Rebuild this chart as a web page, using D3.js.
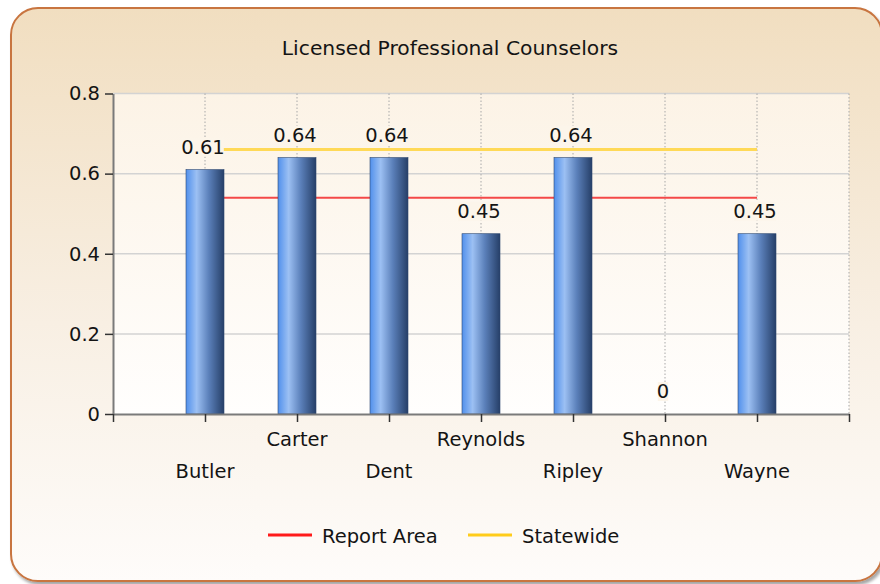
<!DOCTYPE html>
<html>
<head>
<meta charset="utf-8">
<script src="https://cdn.jsdelivr.net/npm/d3@7"></script>
<style>
  html, body { margin: 0; padding: 0; background: #ffffff; }
  svg { display: block; }
  text { font-family: "DejaVu Sans", Verdana, sans-serif; fill: #141414; }
</style>
</head>
<body>
<svg id="chart" width="880" height="584"></svg>
<script>
// Licensed professional counselors per county, with report-area and statewide rates
const counties = ["Butler", "Carter", "Dent", "Reynolds", "Ripley", "Shannon", "Wayne"];
const countyRates = [0.61, 0.64, 0.64, 0.45, 0.64, 0, 0.45];
const reportArea = [0.54, 0.54, 0.54, 0.54, 0.54, 0.54, 0.54];
const statewide = [0.66, 0.66, 0.66, 0.66, 0.66, 0.66, 0.66];
const yTicks = [0, 0.2, 0.4, 0.6, 0.8];
const legendItems = [
  { name: "Report Area", color: "#ff1a1a" },
  { name: "Statewide", color: "#ffcc1a" }
];
const chartTitle = "Licensed Professional Counselors";

const svg = d3.select("#chart");
const defs = svg.append("defs");

// Panel background: warm beige fading to near white
const panelGrad = defs.append("linearGradient").attr("id", "panelGrad")
  .attr("x1", 0).attr("y1", 0).attr("x2", 0).attr("y2", 1);
panelGrad.append("stop").attr("offset", "0%").attr("stop-color", "#f1dec0");
panelGrad.append("stop").attr("offset", "55%").attr("stop-color", "#f8efe3");
panelGrad.append("stop").attr("offset", "100%").attr("stop-color", "#fefcfa");

// Plot area background
const plotGrad = defs.append("linearGradient").attr("id", "plotGrad")
  .attr("x1", 0).attr("y1", 0).attr("x2", 0).attr("y2", 1);
plotGrad.append("stop").attr("offset", "0%").attr("stop-color", "#fcf3e6");
plotGrad.append("stop").attr("offset", "100%").attr("stop-color", "#fffefd");

// Cylinder-like horizontal shading for bars
const barGrad = defs.append("linearGradient").attr("id", "barGrad")
  .attr("x1", 0).attr("y1", 0).attr("x2", 1).attr("y2", 0);
barGrad.append("stop").attr("offset", "0%").attr("stop-color", "#5190ec");
barGrad.append("stop").attr("offset", "28%").attr("stop-color", "#9cc0f3");
barGrad.append("stop").attr("offset", "60%").attr("stop-color", "#5b80ba");
barGrad.append("stop").attr("offset", "100%").attr("stop-color", "#263f68");

const shadow = defs.append("filter").attr("id", "panelShadow")
  .attr("x", "-5%").attr("y", "-5%").attr("width", "110%").attr("height", "110%");
shadow.append("feDropShadow").attr("dx", 2).attr("dy", 3).attr("stdDeviation", 1.6)
  .attr("flood-color", "#000").attr("flood-opacity", 0.35);

// Rounded panel
svg.append("rect")
  .attr("x", 11).attr("y", 8).attr("width", 871).attr("height", 573)
  .attr("rx", 27).attr("ry", 27)
  .attr("fill", "url(#panelGrad)")
  .attr("stroke", "#c8743f").attr("stroke-width", 2)
  .attr("filter", "url(#panelShadow)");

// Title
svg.append("text")
  .attr("x", 450).attr("y", 55)
  .attr("text-anchor", "middle")
  .style("font-size", "20.3px")
  .text(chartTitle);

// Scales
const x = d3.scaleLinear().domain([0, counties.length + 1]).range([113, 849]);
const y = d3.scaleLinear().domain([0, 0.8]).range([414, 93.5]);
const barWidth = 38;

// Plot background
svg.append("rect")
  .attr("x", x(0)).attr("y", y(0.8))
  .attr("width", x(counties.length + 1) - x(0))
  .attr("height", y(0) - y(0.8))
  .attr("fill", "url(#plotGrad)");

// Horizontal gridlines
svg.append("g").selectAll("line")
  .data(yTicks.filter(d => d > 0))
  .join("line")
  .attr("x1", x(0)).attr("x2", x(counties.length + 1))
  .attr("y1", d => y(d)).attr("y2", d => y(d))
  .attr("stroke", "#d3d3d3").attr("stroke-width", 1.5);

// Vertical dotted gridlines at each county and at the right edge
const vGrid = counties.map((c, i) => i + 1).concat([counties.length + 1]);
svg.append("g").selectAll("line")
  .data(vGrid)
  .join("line")
  .attr("x1", d => x(d)).attr("x2", d => x(d))
  .attr("y1", y(0.8)).attr("y2", y(0))
  .attr("stroke", "#a8a8a8").attr("stroke-width", 1)
  .attr("stroke-dasharray", "1.5,2");

// Reference lines (drawn behind the bars)
const refLine = d3.line()
  .x((d, i) => x(i + 1))
  .y(d => y(d));
svg.append("path").datum(statewide)
  .attr("d", refLine).attr("fill", "none")
  .attr("stroke", "#ffd957").attr("stroke-width", 3);
svg.append("path").datum(reportArea)
  .attr("d", refLine).attr("fill", "none")
  .attr("stroke", "#f44848").attr("stroke-width", 2);

// Bars
svg.append("g").selectAll("rect")
  .data(countyRates)
  .join("rect")
  .attr("x", (d, i) => x(i + 1) - barWidth / 2)
  .attr("y", d => y(d))
  .attr("width", barWidth)
  .attr("height", d => y(0) - y(d))
  .attr("fill", "url(#barGrad)")
  .attr("stroke", "#2c4670").attr("stroke-width", 0.6);

// Value labels above the bars, on a small backing so lines do not cross them
const labels = svg.append("g").selectAll("g")
  .data(countyRates)
  .join("g")
  .attr("transform", (d, i) => `translate(${x(i + 1) - 2},${y(d) - 16})`);
labels.append("rect")
  .attr("x", d => -(String(d).length * 5.2))
  .attr("y", -16)
  .attr("width", d => String(d).length * 10.4)
  .attr("height", 19)
  .attr("fill", "#fcf5ea");
labels.append("text")
  .attr("text-anchor", "middle")
  .style("font-size", "19.5px")
  .text(d => String(d));

// Y axis
const yAxis = svg.append("g")
  .attr("transform", `translate(${x(0)},0)`)
  .call(d3.axisLeft(y).tickValues(yTicks).tickSize(8).tickSizeOuter(0)
    .tickFormat(d => d === 0 ? "0" : d3.format(".1f")(d)));
yAxis.select(".domain").attr("stroke", "#7a7a7a").attr("stroke-width", 2);
yAxis.selectAll(".tick line").attr("stroke", "#333").attr("stroke-width", 1.5);
yAxis.selectAll(".tick text")
  .attr("x", -13)
  .attr("fill", "#141414")
  .style("font-family", "\"DejaVu Sans\", Verdana, sans-serif")
  .style("font-size", "19.5px");

// X axis with staggered county labels
const xAxis = svg.append("g")
  .attr("transform", `translate(0,${y(0)})`)
  .call(d3.axisBottom(x).tickValues(d3.range(0, counties.length + 2))
    .tickSize(8).tickSizeOuter(0).tickFormat(""));
xAxis.select(".domain").attr("stroke", "#7a7a7a").attr("stroke-width", 2);
xAxis.selectAll(".tick line").attr("stroke", "#333").attr("stroke-width", 1.5);

svg.append("g").selectAll("text")
  .data(counties)
  .join("text")
  .attr("x", (d, i) => x(i + 1))
  .attr("y", (d, i) => i % 2 === 1 ? 446 : 478)
  .attr("text-anchor", "middle")
  .style("font-size", "19.5px")
  .text(d => d);

// Legend
const legend = svg.append("g").selectAll("g")
  .data(legendItems)
  .join("g")
  .attr("transform", (d, i) => `translate(${268 + i * 200},535)`);
legend.append("line")
  .attr("x1", 0).attr("x2", 44).attr("y1", 0).attr("y2", 0)
  .attr("stroke", d => d.color).attr("stroke-width", 3);
legend.append("text")
  .attr("x", 54).attr("y", 8)
  .style("font-size", "19.5px")
  .text(d => d.name);
</script>
</body>
</html>
